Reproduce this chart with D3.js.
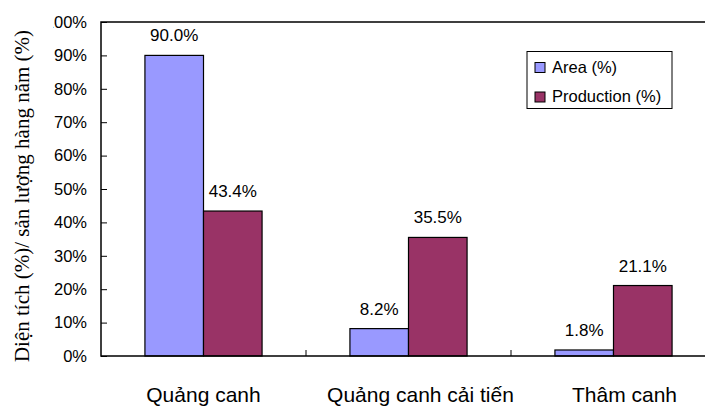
<!DOCTYPE html>
<html>
<head>
<meta charset="utf-8">
<script src="https://cdn.jsdelivr.net/npm/d3@7"></script>
<style>
  html, body { margin: 0; padding: 0; background: #fff; }
  svg { display: block; }
</style>
</head>
<body>
<svg id="chart" width="705" height="407"></svg>
<script>
// Farming systems and their shares of area and annual production
const categories = ["Quảng canh", "Quảng canh cải tiến", "Thâm canh"];
const seriesNames = ["Area (%)", "Production (%)"];
const areaValues = [90.0, 8.2, 1.8];
const productionValues = [43.4, 35.5, 21.1];
const yTicks = [0, 10, 20, 30, 40, 50, 60, 70, 80, 90, 100];
const seriesColors = ["#9999FF", "#993366"];
const yTitle = "Diện tích (%)/ sản lượng hàng năm (%)";

const sans = "Liberation Sans, Arial, sans-serif";
const svg = d3.select("#chart");
const plot = { left: 101, right: 716, top: 22, bottom: 356 };
// horizontal nudge of each category caption away from its band centre
const captionNudge = [0, 12, 11];

const x0 = d3.scaleBand().domain(categories).range([plot.left, plot.right]).padding(0);
const bw = x0.bandwidth();
const gap = bw * 1.5 / 3.5;
const x1 = d3.scaleBand().domain(seriesNames).range([gap / 2, bw - gap / 2]).padding(0);
const y = d3.scaleLinear().domain([0, 100]).range([plot.bottom, plot.top]);

const rows = categories.map((c, i) => ({
  cat: c,
  vals: [areaValues[i], productionValues[i]]
}));

// Bars
const groups = svg.append("g").selectAll("g")
  .data(rows).join("g")
  .attr("transform", d => `translate(${x0(d.cat)},0)`);

groups.selectAll("rect")
  .data(d => d.vals.map((v, j) => ({ v, j })))
  .join("rect")
  .attr("x", d => x1(seriesNames[d.j]))
  .attr("y", d => y(d.v))
  .attr("width", x1.bandwidth())
  .attr("height", d => y(0) - y(d.v))
  .attr("fill", d => seriesColors[d.j])
  .attr("stroke", "#000")
  .attr("stroke-width", 1.2);

// Value labels
groups.selectAll("text")
  .data(d => d.vals.map((v, j) => ({ v, j })))
  .join("text")
  .attr("x", d => x1(seriesNames[d.j]) + x1.bandwidth() / 2)
  .attr("y", d => y(d.v) - 14)
  .attr("text-anchor", "middle")
  .attr("font-family", sans)
  .attr("font-size", 17)
  .attr("fill", "#000")
  .text(d => d.v.toFixed(1) + "%");

// Frame: left, top and bottom lines
const frame = svg.append("g").attr("stroke", "#000").attr("stroke-width", 1.5).attr("fill", "none");
frame.append("path").attr("d", `M${plot.right},${plot.top}H${plot.left}V${plot.bottom}H${plot.right}`);

// Y axis with inward ticks
const yAxis = d3.axisLeft(y).tickValues(yTicks).tickSize(-6).tickPadding(14)
  .tickFormat(d => d + "%");
const yg = svg.append("g").attr("transform", `translate(${plot.left},0)`).call(yAxis);
yg.select(".domain").remove();
yg.selectAll("line").attr("stroke", "#000");
yg.selectAll("text")
  .attr("font-family", sans)
  .attr("font-size", 16.5)
  .attr("fill", "#000");

// Category boundary ticks on the x axis
svg.append("g").selectAll("line")
  .data(categories.slice(1))
  .join("line")
  .attr("x1", d => x0(d)).attr("x2", d => x0(d))
  .attr("y1", plot.bottom).attr("y2", plot.bottom - 6)
  .attr("stroke", "#000");

// Category labels
svg.append("g").selectAll("text")
  .data(categories)
  .join("text")
  .attr("x", (d, i) => x0(d) + bw / 2 + captionNudge[i])
  .attr("y", 402)
  .attr("text-anchor", "middle")
  .attr("font-family", sans)
  .attr("font-size", 21)
  .attr("fill", "#000")
  .text(d => d);

// White band over the left margin, then the axis title
svg.append("rect").attr("x", 0).attr("y", 0).attr("width", 53).attr("height", 407).attr("fill", "#fff");
svg.append("text")
  .attr("transform", `translate(29,196) rotate(-90)`)
  .attr("text-anchor", "middle")
  .attr("font-family", "Liberation Serif, Times New Roman, serif")
  .attr("font-size", 21)
  .attr("fill", "#000")
  .text(yTitle);

// Legend
const legend = svg.append("g").attr("transform", "translate(527,51.5)");
legend.append("rect").attr("width", 145).attr("height", 57)
  .attr("fill", "#fff").attr("stroke", "#000").attr("stroke-width", 1);
seriesNames.forEach((name, i) => {
  const row = legend.append("g").attr("transform", `translate(8,${21 + i * 29.5})`);
  row.append("rect").attr("x", 0).attr("y", -10).attr("width", 10).attr("height", 10)
    .attr("fill", seriesColors[i]).attr("stroke", "#000").attr("stroke-width", 1);
  row.append("text").attr("x", 17).attr("y", 0)
    .attr("font-family", sans)
    .attr("font-size", 16.5)
    .attr("fill", "#000")
    .text(name);
});
</script>
</body>
</html>
